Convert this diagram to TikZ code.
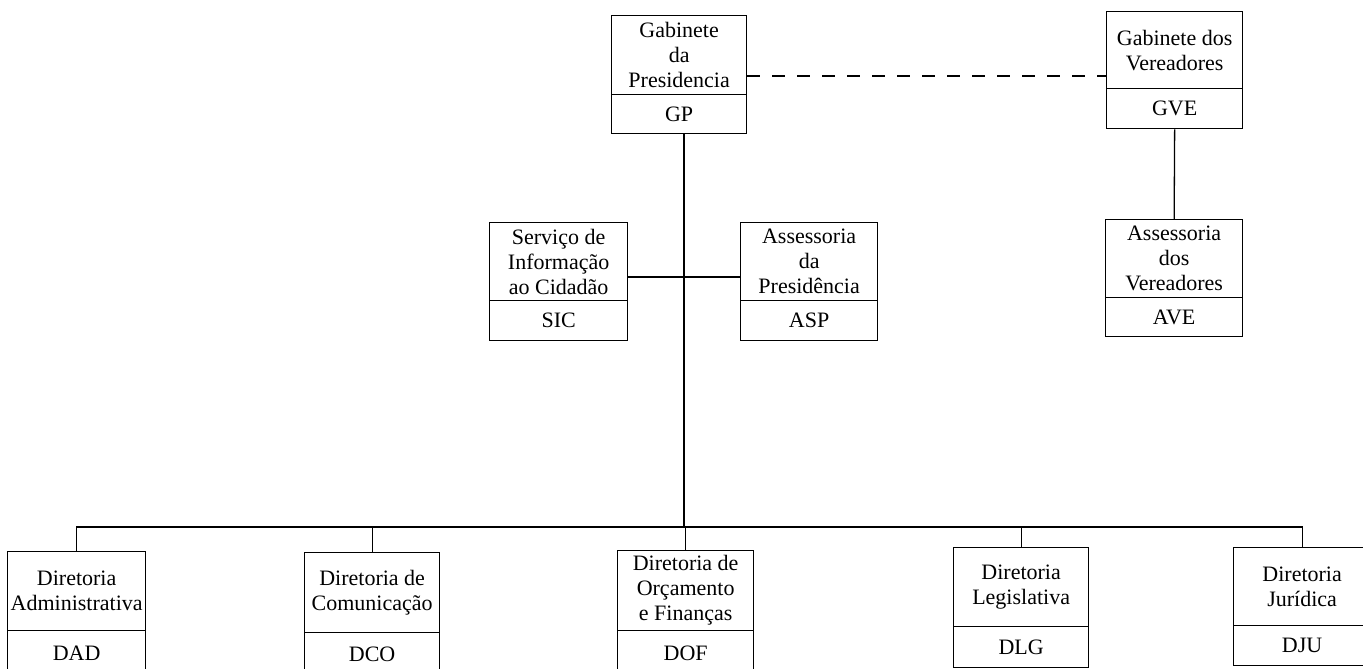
\documentclass[tikz,border=0pt]{standalone}
\usepackage{fontspec}
\setmainfont{Liberation Serif}
\begin{document}
\begin{tikzpicture}[x=1pt,y=-1pt,
  line width=1.3pt,
  tbox/.style={draw, line width=1.3pt, inner sep=0pt, align=center, anchor=north west,
    font=\fontsize{22}{25}\selectfont},
]
\useasboundingbox (0,0) rectangle (1363,669);
\clip (0,0) rectangle (1363,669);

% top row
\node[tbox, minimum width=135pt, minimum height=79pt] (gp) at (611,15) {Gabinete\\da\\Presidencia};
\node[tbox, minimum width=135pt, minimum height=39pt] (gpc) at (611,94) {GP};

\node[tbox, minimum width=136pt, minimum height=77pt] (gve) at (1106,11) {Gabinete dos\\Vereadores};
\node[tbox, minimum width=136pt, minimum height=40pt] (gvec) at (1106,88) {GVE};

\node[tbox, minimum width=137pt, minimum height=78pt] (ave) at (1105,219) {Assessoria\\dos\\Vereadores};
\node[tbox, minimum width=137pt, minimum height=39pt] (avec) at (1105,297) {AVE};

\node[tbox, minimum width=138pt, minimum height=78pt] (sic) at (489,222) {Serviço de\\Informação\\ao Cidadão};
\node[tbox, minimum width=138pt, minimum height=40pt] (sicc) at (489,300) {SIC};

\node[tbox, minimum width=137pt, minimum height=78pt] (asp) at (740,222) {Assessoria\\da\\Presidência};
\node[tbox, minimum width=137pt, minimum height=40pt] (aspc) at (740,300) {ASP};

% bottom row
\node[tbox, minimum width=138pt, minimum height=79pt] (dad) at (7,551) {Diretoria\\Administrativa};
\node[tbox, minimum width=138pt, minimum height=45pt] (dadc) at (7,630) {DAD};

\node[tbox, minimum width=135pt, minimum height=80pt] (dco) at (304,552) {Diretoria de\\Comunicação};
\node[tbox, minimum width=135pt, minimum height=44pt] (dcoc) at (304,632) {DCO};

\node[tbox, minimum width=136pt, minimum height=80pt] (dof) at (617,550) {Diretoria de\\Orçamento\\e Finanças};
\node[tbox, minimum width=136pt, minimum height=45pt] (dofc) at (617,630) {DOF};

\node[tbox, minimum width=135pt, minimum height=79pt] (dlg) at (953,547) {Diretoria\\Legislativa};
\node[tbox, minimum width=135pt, minimum height=41pt] (dlgc) at (953,626) {DLG};

\node[tbox, minimum width=137pt, minimum height=78pt] (dju) at (1233,547) {Diretoria\\Jurídica};
\node[tbox, minimum width=137pt, minimum height=40pt] (djuc) at (1233,625) {DJU};

% connectors
\coordinate (bus) at (684,527);
\coordinate (hl) at (684,277);
\coordinate (dl) at (684,76);
\draw (gpc.south -| bus) -- (bus);
\draw (sic.east |- hl) -- (asp.west |- hl);
\draw[dash pattern=on 13pt off 12pt] (gp.east |- dl) -- (gve.west |- dl);
\draw (gvec.south) -- (ave.north);
\draw (dad.north) |- (bus) -| (dju.north);
\draw (dco.north) -- (dco.north |- bus);
\draw (dof.north) -- (dof.north |- bus);
\draw (dlg.north) -- (dlg.north |- bus);
\end{tikzpicture}
\end{document}
